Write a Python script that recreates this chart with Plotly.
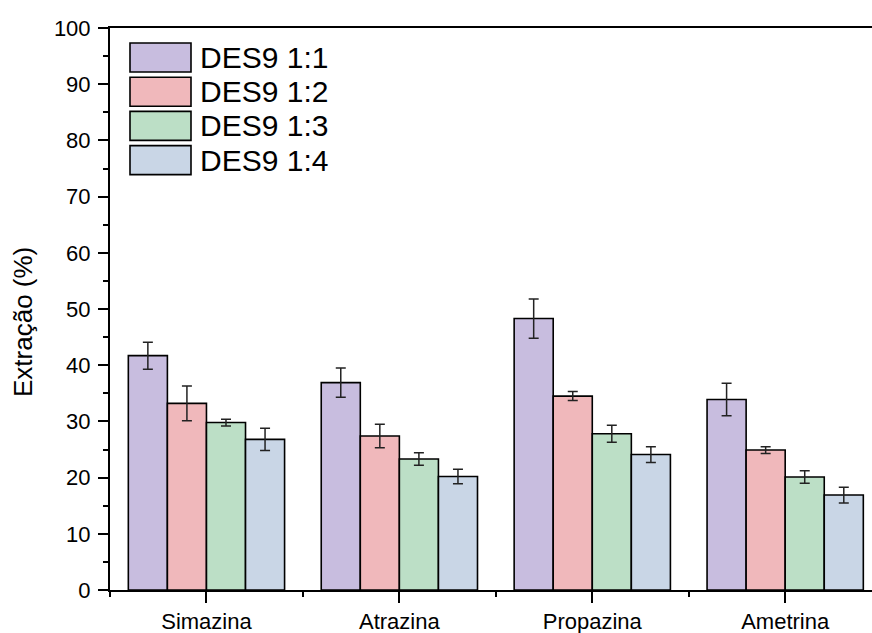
import plotly.graph_objects as go

categories = ["Simazina", "Atrazina", "Propazina", "Ametrina"]
series_names = ["DES9 1:1", "DES9 1:2", "DES9 1:3", "DES9 1:4"]
values_11 = [41.7, 36.9, 48.3, 33.9]
values_12 = [33.2, 27.4, 34.5, 24.9]
values_13 = [29.8, 23.3, 27.8, 20.1]
values_14 = [26.8, 20.2, 24.1, 16.9]
err_11 = [2.4, 2.6, 3.5, 2.9]
err_12 = [3.1, 2.1, 0.8, 0.6]
err_13 = [0.6, 1.1, 1.5, 1.1]
err_14 = [2.0, 1.3, 1.4, 1.4]
colors = ["#C8BDDF", "#F0B8BB", "#BCDFC6", "#C9D6E6"]
y_title = "Extração (%)"

all_values = [values_11, values_12, values_13, values_14]
all_errs = [err_11, err_12, err_13, err_14]
xpos = list(range(len(categories)))

FONT = "Liberation Sans, Arial, sans-serif"

fig = go.Figure()
for name, vals, errs, col in zip(series_names, all_values, all_errs, colors):
    fig.add_trace(go.Bar(
        x=xpos, y=vals, name=name,
        marker=dict(color=col, line=dict(color="black", width=1.6)),
        error_y=dict(type="data", array=errs, visible=True, color="#222222",
                     thickness=1.5, width=5),
        showlegend=False,
    ))

# custom legend (large swatches like the original)
for i, (name, col) in enumerate(zip(series_names, colors)):
    y0 = 43 + i * 34.2
    fig.add_shape(type="rect", xref="paper", yref="paper",
                  x0=(130 - 110) / 762, x1=(191 - 110) / 762,
                  y0=1 - (y0 + 29 - 28) / 562, y1=1 - (y0 - 28) / 562,
                  fillcolor=col, line=dict(color="black", width=1.6))
    fig.add_annotation(text=name, xref="paper", yref="paper",
                       x=(198 - 110) / 762, y=1 - (y0 + 14.5 - 28) / 562,
                       xanchor="left", yanchor="middle", showarrow=False,
                       font=dict(family=FONT, size=30, color="black"))

# y-axis title
fig.add_annotation(text=y_title, xref="paper", yref="paper",
                   x=(23 - 110) / 762, y=1 - (322 - 28) / 562,
                   xanchor="center", yanchor="middle", textangle=-90,
                   showarrow=False, font=dict(family=FONT, size=26, color="black"))

fig.update_layout(
    width=872, height=633,
    margin=dict(l=110, r=0, t=28, b=43),
    plot_bgcolor="white", paper_bgcolor="white",
    barmode="group", bargap=0.19, bargroupgap=0,
    font=dict(family=FONT, color="black"),
)
fig.update_xaxes(
    range=[-0.5, 3.45], tickvals=xpos, ticktext=categories,
    showgrid=False, zeroline=False,
    showline=True, linecolor="black", linewidth=2, mirror=True,
    ticks="outside", ticklen=11, tickwidth=2, tickcolor="black",
    tickfont=dict(family=FONT, size=22),
    ticklabelstandoff=0,
    minor=dict(tick0=0.5, dtick=1, ticks="outside", ticklen=5, tickwidth=2, tickcolor="black"),
)
fig.update_yaxes(
    range=[0, 100], dtick=10, tick0=0,
    showgrid=False, zeroline=False,
    showline=True, linecolor="black", linewidth=2,
    ticks="outside", ticklen=10, tickwidth=2, tickcolor="black",
    tickfont=dict(family=FONT, size=22),
    ticklabelstandoff=3,
    minor=dict(dtick=5, ticks="outside", ticklen=5, tickwidth=2, tickcolor="black"),
)

fig.write_html("out.html")
